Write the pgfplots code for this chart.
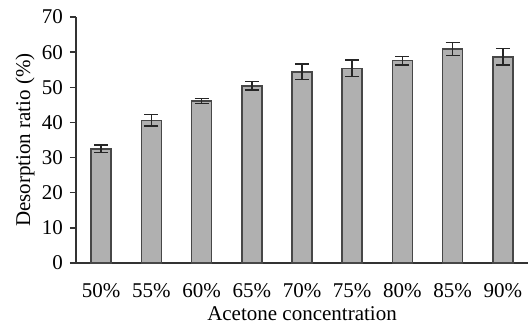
\documentclass[border=0pt]{standalone}
\usepackage{pgfplots}
\pgfplotsset{compat=1.18}
\usepackage{fontspec}
\setmainfont{Liberation Serif}
\definecolor{barfill}{HTML}{B0B0B0}
\definecolor{baredge}{HTML}{474747}
\definecolor{axcol}{HTML}{333333}
\begin{document}
\fontsize{21}{25}\selectfont
\begin{tikzpicture}
\useasboundingbox (-76pt,-62pt) rectangle (454pt,263pt);
\begin{axis}[
  at={(0,0)}, anchor=south west,
  scale only axis, width=452pt, height=246pt,
  xmin=-0.5, xmax=8.5, ymin=0, ymax=70,
  axis x line*=bottom, axis y line*=left,
  axis line style={-, line width=1.3pt, color=axcol},
  xtick={0,...,8},
  xticklabels={50\%,55\%,60\%,65\%,70\%,75\%,80\%,85\%,90\%},
  ytick={0,10,...,70},
  tick align=outside, major tick length=6pt,
  x tick style={draw=none},
  y tick style={line width=1.3pt, color=axcol},
  /pgf/number format/assume math mode=true,
  tick label style={font=\fontsize{21}{25}\selectfont},
  xticklabel style={yshift=-7pt},
  yticklabel style={xshift=0pt},
  xlabel={Acetone concentration},
  ylabel={Desorption ratio (\%)},
  label style={font=\fontsize{21}{25}\selectfont},
  xlabel style={yshift=5pt},
  ylabel style={yshift=-7pt},
  clip=false,
]
\addplot[ybar, bar width=20pt, fill=barfill, draw=baredge, line width=1.6pt,
  error bars/.cd, y dir=both, y explicit,
  error bar style={line width=1.6pt, color=black!85},
  error mark options={rotate=90, mark size=7pt, line width=1.6pt, color=black!85}]
  table[x=x, y=y, y error=e] {
x y e
0 32.5 1.0
1 40.6 1.7
2 46.1 0.7
3 50.4 1.2
4 54.4 2.2
5 55.4 2.3
6 57.6 1.2
7 60.9 1.8
8 58.7 2.3
};
\end{axis}
\end{tikzpicture}
\end{document}
